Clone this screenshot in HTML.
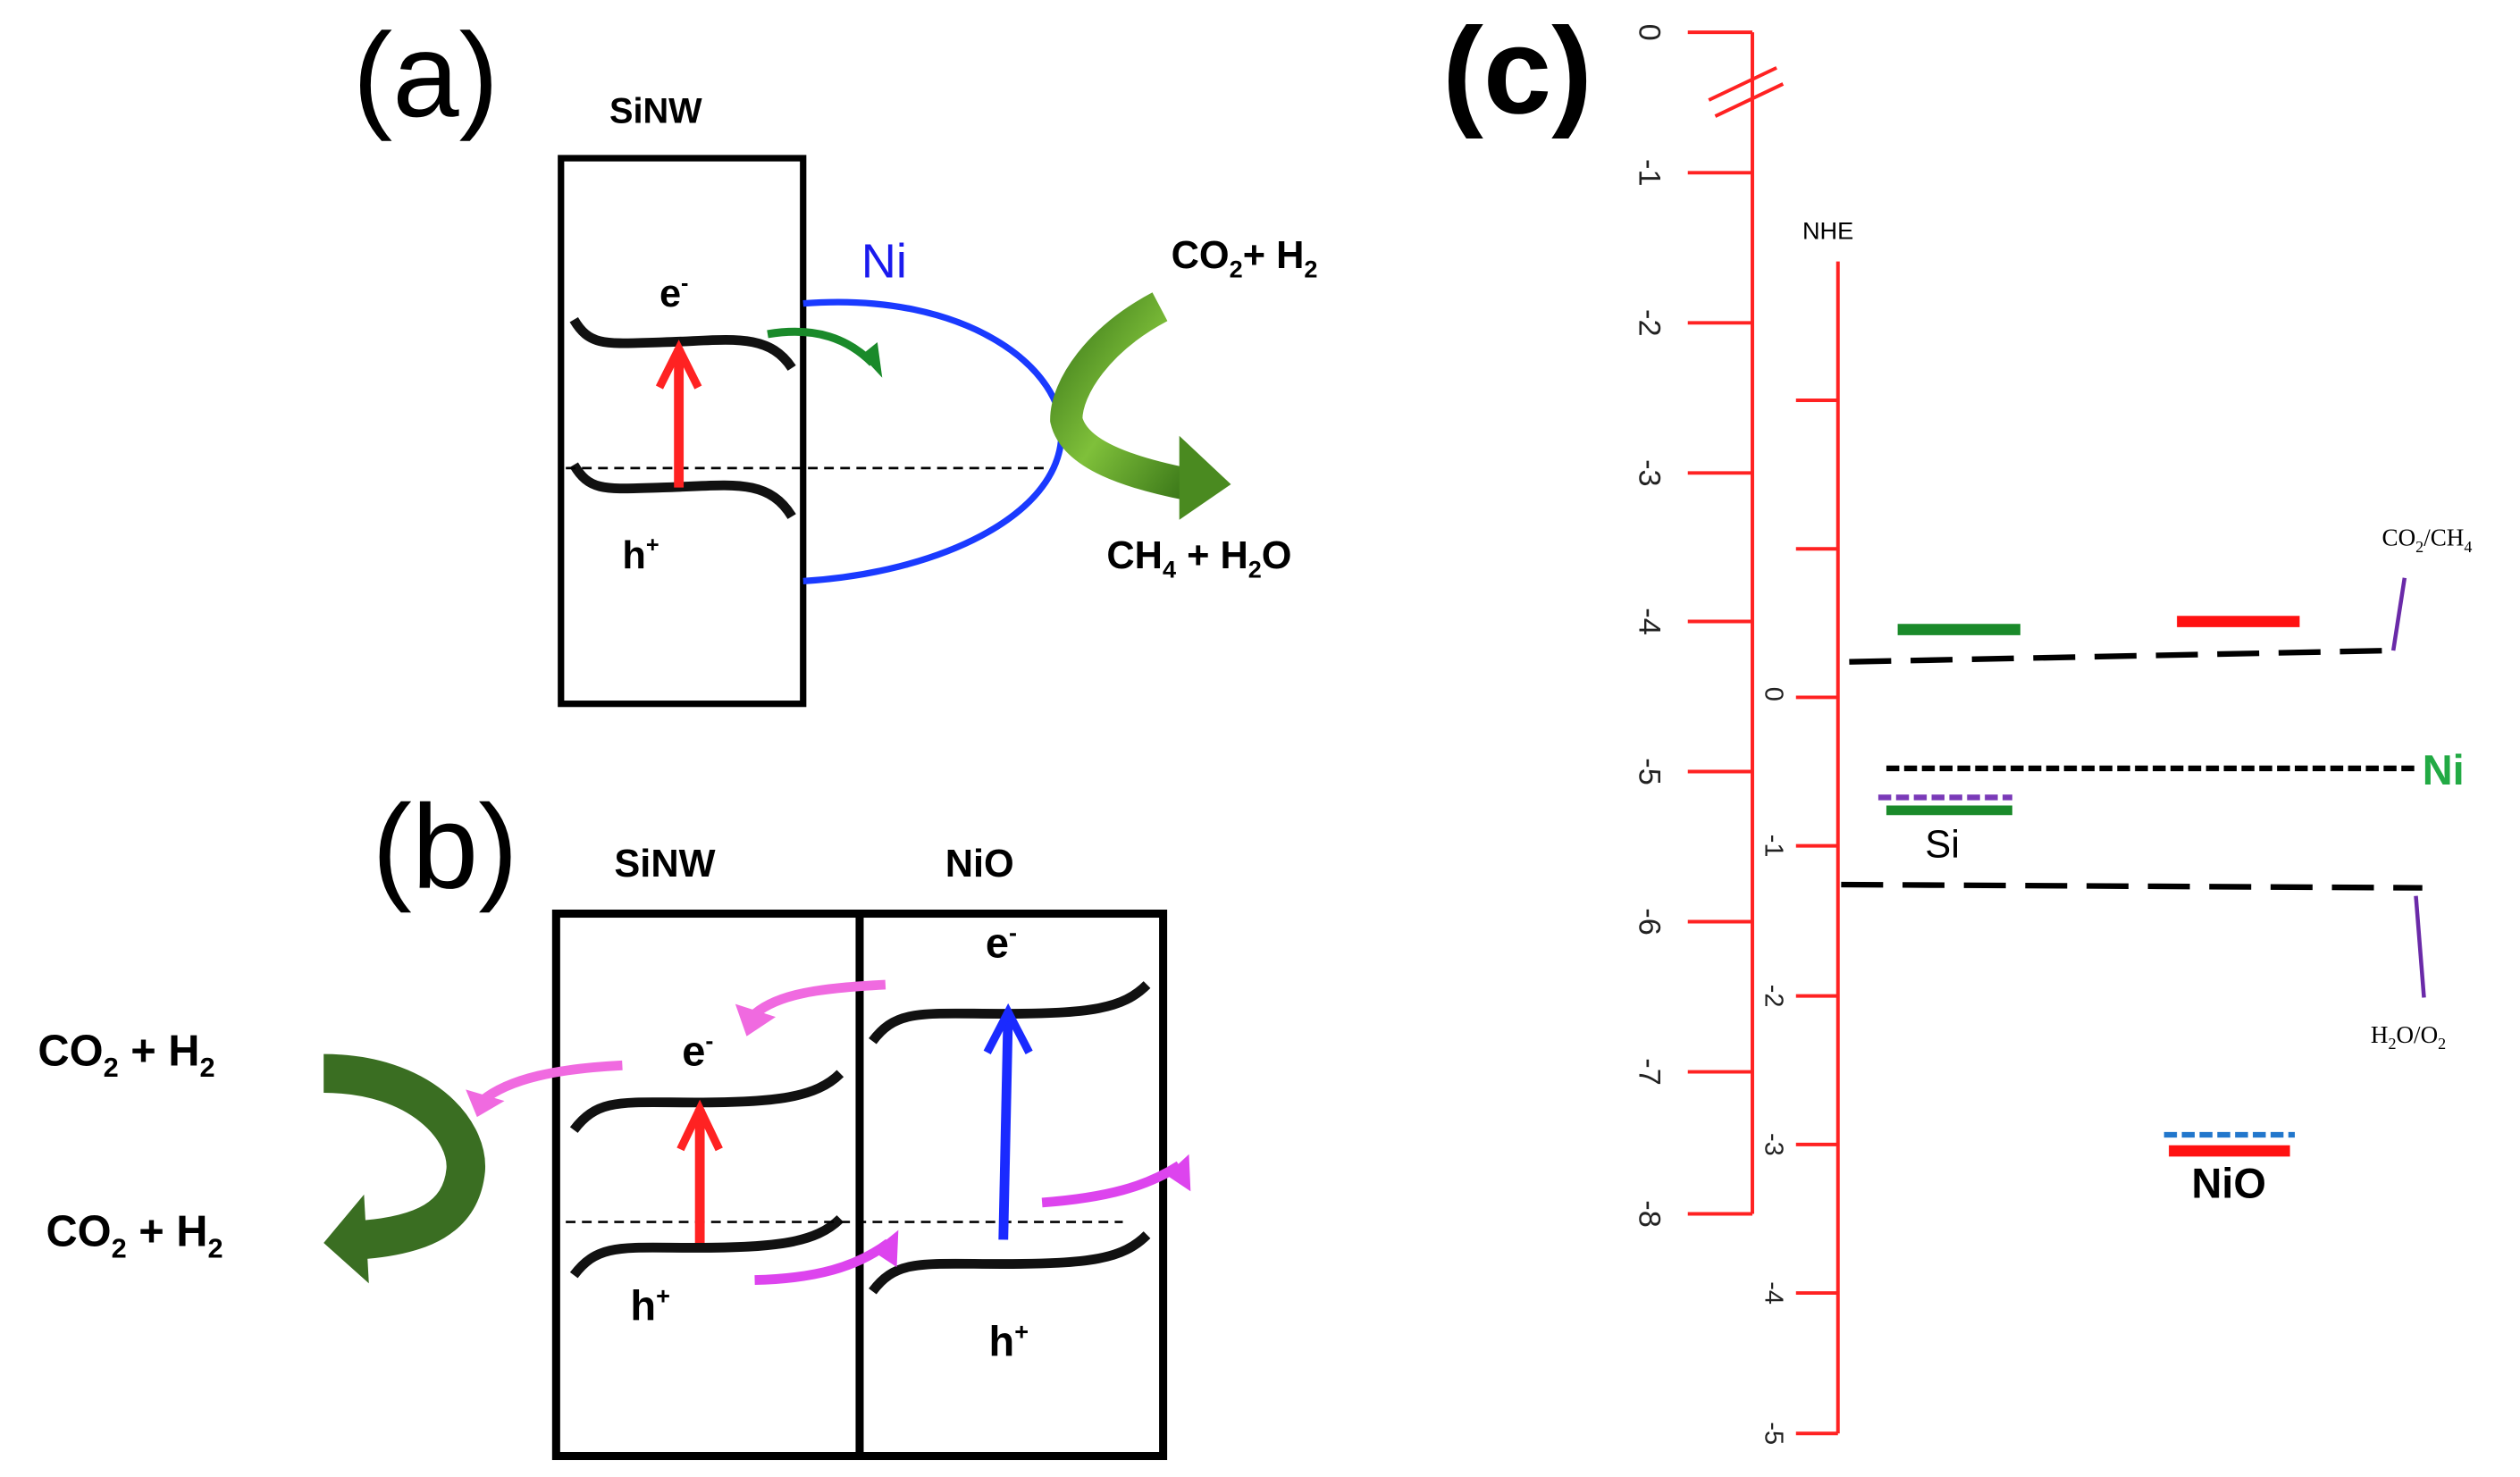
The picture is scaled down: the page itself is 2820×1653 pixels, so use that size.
<!DOCTYPE html>
<html><head><meta charset="utf-8"><style>html,body{margin:0;padding:0;background:#fff}svg{display:block}</style></head>
<body>
<svg width="2820" height="1653" viewBox="0 0 1560 915" xmlns="http://www.w3.org/2000/svg" font-family="Liberation Sans, sans-serif">
<defs>
<linearGradient id="g1" x1="0" y1="0" x2="1" y2="1"><stop offset="0" stop-color="#3d7a1a"/><stop offset="0.5" stop-color="#7fc03a"/><stop offset="1" stop-color="#3d7a1a"/></linearGradient>
</defs>
<rect width="1560" height="915" fill="#fff"/>
<!-- (a) -->
<text x="218" y="72" font-size="74">(a)</text>
<text x="377" y="76" font-size="22" font-weight="bold">SiNW</text>
<rect x="347" y="98" width="150" height="338" fill="none" stroke="#000" stroke-width="4"/>
<g fill="none" stroke="#111" stroke-width="6">
<path d="M355,198 C365,215 375,213 410,212 C450,211 475,205 490,228"/>
<path d="M355,288 C365,305 375,303 410,302 C450,301 475,295 490,320"/>
</g>
<text x="408" y="190" font-size="24" font-weight="bold">e<tspan font-size="14" dy="-10">-</tspan></text>
<text x="385" y="352" font-size="24" font-weight="bold">h<tspan font-size="14" dy="-10">+</tspan></text>
<line x1="350" y1="290" x2="650" y2="290" stroke="#000" stroke-width="1.5" stroke-dasharray="6,4"/>
<line x1="420" y1="302" x2="420" y2="216" stroke="#f22" stroke-width="6"/>
<polyline points="408,240 420,216 432,240" fill="none" stroke="#f22" stroke-width="5"/>
<text x="533" y="172" font-size="30" fill="#1a1aee">Ni</text>
<path d="M497,188 C600,180 660,230 657,270 C655,320 580,355 497,360" fill="none" stroke="#1a3aff" stroke-width="4"/>
<path d="M475,207 C505,202 525,210 540,225" fill="none" stroke="#1a8a2a" stroke-width="5"/>
<polygon points="533,220 546,234 543,212" fill="#1a8a2a"/>
<path d="M718,190 C680,210 660,240 660,260 C665,282 700,293 735,300" fill="none" stroke="url(#g1)" stroke-width="20"/>
<polygon points="730,270 762,300 730,322" fill="#4a8a20"/>
<text x="725" y="166" font-size="24" font-weight="bold">CO<tspan font-size="15" dy="6">2</tspan><tspan dy="-6">+ H</tspan><tspan font-size="15" dy="6">2</tspan></text>
<text x="685" y="352" font-size="24" font-weight="bold">CH<tspan font-size="15" dy="6">4</tspan><tspan dy="-6"> + H</tspan><tspan font-size="15" dy="6">2</tspan><tspan dy="-6">O</tspan></text>
<!-- (b) -->
<text x="230" y="550" font-size="74">(b)</text>
<text x="380" y="543" font-size="24" font-weight="bold">SiNW</text>
<text x="585" y="543" font-size="24" font-weight="bold">NiO</text>
<rect x="344" y="566" width="376" height="336" fill="none" stroke="#000" stroke-width="5"/>
<line x1="532" y1="566" x2="532" y2="902" stroke="#000" stroke-width="5"/>
<g fill="none" stroke="#111" stroke-width="6">
<path d="M355,700 C370,680 385,683 430,683 C480,683 505,680 520,665"/>
<path d="M355,790 C370,770 385,773 430,773 C480,773 505,770 520,755"/>
<path d="M540,645 C555,625 570,628 620,628 C675,628 695,625 710,610"/>
<path d="M540,800 C555,780 570,783 620,783 C675,783 695,780 710,765"/>
</g>
<line x1="350" y1="757" x2="695" y2="757" stroke="#000" stroke-width="1.5" stroke-dasharray="6,4"/>
<line x1="433" y1="770" x2="433" y2="687" stroke="#f22" stroke-width="6"/>
<polyline points="421,712 433,687 445,712" fill="none" stroke="#f22" stroke-width="5"/>
<line x1="621" y1="768" x2="624" y2="627" stroke="#1a2aff" stroke-width="6"/>
<polyline points="611,652 624,627 637,652" fill="none" stroke="#1a2aff" stroke-width="5"/>
<text x="422" y="660" font-size="26" font-weight="bold">e<tspan font-size="15" dy="-10">-</tspan></text>
<text x="610" y="593" font-size="26" font-weight="bold">e<tspan font-size="15" dy="-10">-</tspan></text>
<text x="390" y="818" font-size="26" font-weight="bold">h<tspan font-size="15" dy="-10">+</tspan></text>
<text x="612" y="840" font-size="26" font-weight="bold">h<tspan font-size="15" dy="-10">+</tspan></text>
<g fill="none" stroke-width="6">
<path d="M548,610 C510,612 480,615 465,630" stroke="#f06ae0"/>
<path d="M385,660 C345,662 315,668 298,682" stroke="#f06ae0"/>
<path d="M467,793 C505,792 530,785 550,770" stroke="#dd44ee"/>
<path d="M645,745 C685,742 710,735 730,722" stroke="#dd44ee"/>
</g>
<polygon points="455,622 480,630 462,642" fill="#f06ae0"/>
<polygon points="288,675 312,682 295,692" fill="#f06ae0"/>
<polygon points="556,762 555,785 540,775" fill="#dd44ee"/>
<polygon points="736,715 737,738 722,728" fill="#dd44ee"/>
<text x="23" y="660" font-size="27" font-weight="bold">CO<tspan font-size="17" dy="7">2</tspan><tspan dy="-7"> + H</tspan><tspan font-size="17" dy="7">2</tspan></text>
<text x="28" y="772" font-size="27" font-weight="bold">CO<tspan font-size="17" dy="7">2</tspan><tspan dy="-7"> + H</tspan><tspan font-size="17" dy="7">2</tspan></text>
<path d="M200,665 C260,665 290,700 288,725 C285,755 260,765 225,768" fill="none" stroke="#3a6e22" stroke-width="24"/>
<polygon points="200,770 225,740 228,795" fill="#3a6e22"/>
<!-- (c) -->
<text x="893" y="70" font-size="76" font-weight="bold">(c)</text>
<g stroke="#f22" stroke-width="2.2" fill="none">
<line x1="1085" y1="20" x2="1085" y2="752"/>
<line x1="1045" y1="20" x2="1085" y2="20"/><line x1="1045" y1="107" x2="1085" y2="107"/>
<line x1="1045" y1="200" x2="1085" y2="200"/><line x1="1045" y1="293" x2="1085" y2="293"/>
<line x1="1045" y1="385" x2="1085" y2="385"/><line x1="1045" y1="478" x2="1085" y2="478"/>
<line x1="1045" y1="571" x2="1085" y2="571"/><line x1="1045" y1="664" x2="1085" y2="664"/>
<line x1="1045" y1="752" x2="1085" y2="752"/>
<line x1="1058" y1="62" x2="1100" y2="42"/><line x1="1062" y1="72" x2="1104" y2="52"/>
<line x1="1138" y1="162" x2="1138" y2="888"/>
<line x1="1112" y1="248" x2="1138" y2="248"/><line x1="1112" y1="340" x2="1138" y2="340"/>
<line x1="1112" y1="432" x2="1138" y2="432"/><line x1="1112" y1="524" x2="1138" y2="524"/>
<line x1="1112" y1="617" x2="1138" y2="617"/><line x1="1112" y1="709" x2="1138" y2="709"/>
<line x1="1112" y1="801" x2="1138" y2="801"/><line x1="1112" y1="888" x2="1138" y2="888"/>
</g>
<g font-size="19" fill="#222" text-anchor="middle">
<text transform="translate(1015,20) rotate(90)">0</text>
<text transform="translate(1015,107) rotate(90)">-1</text>
<text transform="translate(1015,200) rotate(90)">-2</text>
<text transform="translate(1015,293) rotate(90)">-3</text>
<text transform="translate(1015,385) rotate(90)">-4</text>
<text transform="translate(1015,478) rotate(90)">-5</text>
<text transform="translate(1015,571) rotate(90)">-6</text>
<text transform="translate(1015,664) rotate(90)">-7</text>
<text transform="translate(1015,752) rotate(90)">-8</text>
<text transform="translate(1093,430) rotate(90)" font-size="16">0</text>
<text transform="translate(1093,524) rotate(90)" font-size="16">-1</text>
<text transform="translate(1093,617) rotate(90)" font-size="16">-2</text>
<text transform="translate(1093,709) rotate(90)" font-size="16">-3</text>
<text transform="translate(1093,801) rotate(90)" font-size="16">-4</text>
<text transform="translate(1093,888) rotate(90)" font-size="16">-5</text>
</g>
<text x="1116" y="148" font-size="15">NHE</text>
<line x1="1175" y1="390" x2="1251" y2="390" stroke="#1a8a2a" stroke-width="7"/>
<line x1="1348" y1="385" x2="1424" y2="385" stroke="#f11" stroke-width="7"/>
<path d="M1145,410 L1480,403" stroke="#000" stroke-width="3.5" stroke-dasharray="26,12" fill="none"/>
<line x1="1482" y1="403" x2="1489" y2="358" stroke="#6a2aa8" stroke-width="2.5"/>
<text x="1475" y="338" font-size="15" font-family="Liberation Serif, serif">CO<tspan font-size="10" dy="4">2</tspan><tspan dy="-4">/CH</tspan><tspan font-size="10" dy="4">4</tspan></text>
<path d="M1168,476 L1495,476" stroke="#000" stroke-width="3.5" stroke-dasharray="8,3" fill="none"/>
<text x="1500" y="486" font-size="26" font-weight="bold" fill="#22aa44">Ni</text>
<path d="M1163,494 L1246,494" stroke="#7a3ab8" stroke-width="3.5" stroke-dasharray="8,3" fill="none"/>
<line x1="1168" y1="502" x2="1246" y2="502" stroke="#1a8a2a" stroke-width="6"/>
<text x="1192" y="531" font-size="24">Si</text>
<path d="M1140,548 L1500,550" stroke="#000" stroke-width="3.5" stroke-dasharray="26,12" fill="none"/>
<line x1="1496" y1="555" x2="1501" y2="618" stroke="#6a2aa8" stroke-width="2.5"/>
<text x="1468" y="646" font-size="15" font-family="Liberation Serif, serif">H<tspan font-size="10" dy="4">2</tspan><tspan dy="-4">O/O</tspan><tspan font-size="10" dy="4">2</tspan></text>
<path d="M1340,703 L1421,703" stroke="#2277cc" stroke-width="3.5" stroke-dasharray="8,3" fill="none"/>
<line x1="1343" y1="713" x2="1418" y2="713" stroke="#f11" stroke-width="7"/>
<text x="1357" y="742" font-size="26" font-weight="bold">NiO</text>
</svg>
</body></html>
